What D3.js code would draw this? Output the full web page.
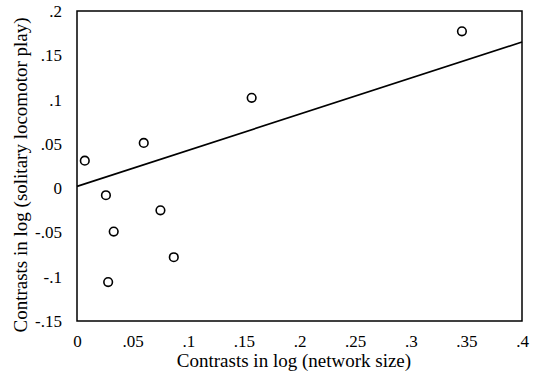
<!DOCTYPE html>
<html lang="en">
<head>
    <meta charset="UTF-8">
    <title>Contrasts scatter</title>
    <style>
        body { margin: 0; background: #fff; }
        text { font-family: "Liberation Serif", "Times New Roman", serif; fill: #000; }
    </style>
</head>
<body>
    <script src="https://cdn.jsdelivr.net/npm/d3@7"></script>
    <script>
        // data
        var networkSize = [0.007, 0.026, 0.033, 0.028, 0.060, 0.075, 0.087, 0.157, 0.346];
        var locomotorPlay = [0.031, -0.008, -0.049, -0.106, 0.051, -0.025, -0.078, 0.102, 0.177];
        var fitLine = [[0, 0.002], [0.4, 0.165]];
        var xTicks = [0, 0.05, 0.1, 0.15, 0.2, 0.25, 0.3, 0.35, 0.4];
        var xTickLabels = ['0', '.05', '.1', '.15', '.2', '.25', '.3', '.35', '.4'];
        var yTicks = [-0.15, -0.1, -0.05, 0, 0.05, 0.1, 0.15, 0.2];
        var yTickLabels = ['-.15', '-.1', '-.05', '0', '.05', '.1', '.15', '.2'];

        var width = 538,
            height = 374,
            margin = {left: 77, right: 16, top: 11, bottom: 53};

        var svg = d3.select('body').append('svg')
            .attr('width', width)
            .attr('height', height);

        var x = d3.scaleLinear()
            .domain([0, 0.4])
            .range([margin.left, width - margin.right]);
        var y = d3.scaleLinear()
            .domain([-0.15, 0.2])
            .range([height - margin.bottom, margin.top]);

        // frame
        svg.append('rect')
            .attr('x', x(0))
            .attr('y', y(0.2))
            .attr('width', x(0.4) - x(0))
            .attr('height', y(-0.15) - y(0.2))
            .attr('fill', 'none')
            .attr('stroke', '#000')
            .attr('stroke-width', 1.5);

        // axes, labels only
        var xAxis = d3.axisBottom(x)
            .tickValues(xTicks)
            .tickSize(0)
            .tickPadding(14)
            .tickFormat(function(d, i) { return xTickLabels[i]; });
        var gx = svg.append('g')
            .attr('transform', 'translate(0,' + y(-0.15) + ')')
            .call(xAxis)
            .attr('font-family', '"Liberation Serif", serif')
            .attr('font-size', 17);
        gx.select('.domain').remove();
        gx.selectAll('text').attr('fill', '#000');

        var yAxis = d3.axisLeft(y)
            .tickValues(yTicks)
            .tickSize(0)
            .tickPadding(15)
            .tickFormat(function(d, i) { return yTickLabels[i]; });
        var gy = svg.append('g')
            .attr('transform', 'translate(' + x(0) + ',0)')
            .call(yAxis)
            .attr('font-family', '"Liberation Serif", serif')
            .attr('font-size', 17);
        gy.select('.domain').remove();
        gy.selectAll('text').attr('fill', '#000');

        // regression line
        svg.append('line')
            .attr('x1', x(fitLine[0][0]))
            .attr('y1', y(fitLine[0][1]))
            .attr('x2', x(fitLine[1][0]))
            .attr('y2', y(fitLine[1][1]))
            .attr('stroke', '#000')
            .attr('stroke-width', 1.6);

        // points
        svg.selectAll('circle.pt')
            .data(networkSize)
            .enter()
            .append('circle')
            .attr('class', 'pt')
            .attr('cx', function(d) { return x(d); })
            .attr('cy', function(d, i) { return y(locomotorPlay[i]); })
            .attr('r', 4.3)
            .attr('fill', '#fff')
            .attr('stroke', '#000')
            .attr('stroke-width', 1.6);

        // axis titles
        svg.append('text')
            .attr('x', 294)
            .attr('y', 367)
            .attr('text-anchor', 'middle')
            .style('font-size', '19px')
            .text('Contrasts in log (network size)');

        svg.append('text')
            .attr('transform', 'translate(27,' + ((y(-0.15) + y(0.2)) / 2 + 9) + ') rotate(-90)')
            .attr('text-anchor', 'middle')
            .style('font-size', '19px')
            .text('Contrasts in log (solitary locomotor play)');
    </script>
</body>
</html>
